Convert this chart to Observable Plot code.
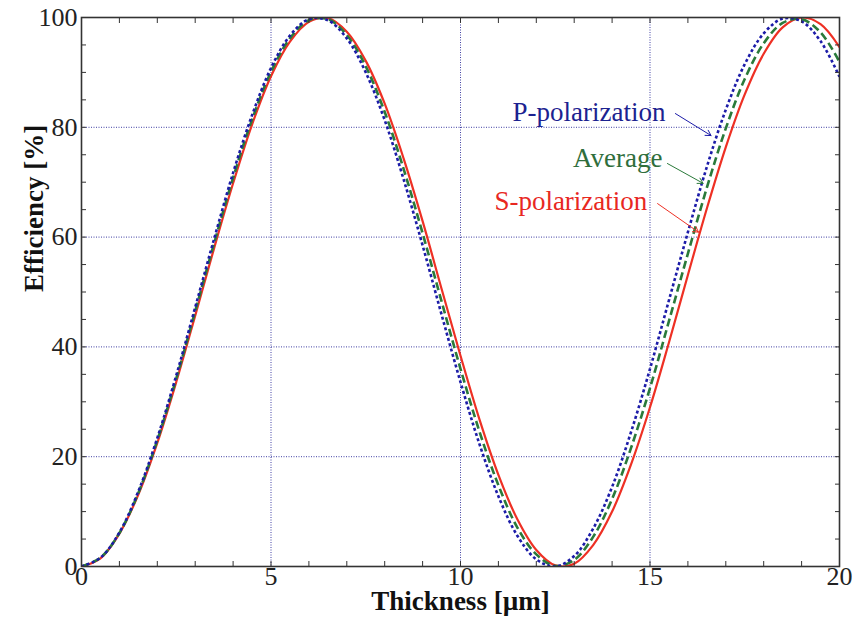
<!DOCTYPE html>
<html>
<head>
<meta charset="utf-8">
<script src="https://cdn.jsdelivr.net/npm/d3@7"></script>
<script src="https://cdn.jsdelivr.net/npm/@observablehq/plot@0.6"></script>
<style>
  html, body { margin: 0; padding: 0; background: #fff; }
  #chart svg, #chart svg text { font-family: "Liberation Serif", "Times New Roman", Tinos, serif !important; }
</style>
</head>
<body>
<div id="chart"></div>
<script>
// Thickness [µm]
const thickness = [0,0.5,1,1.5,2,2.5,3,3.5,4,4.5,5,5.5,6,6.5,7,7.5,8,8.5,9,9.5,10,
  10.5,11,11.5,12,12.5,13,13.5,14,14.5,15,15.5,16,16.5,17,17.5,18,18.5,19,19.5,20];
// Efficiency [%]
const pPolarization = [0,1.6,6.2,13.7,23.4,34.8,47.2,59.7,71.7,82.2,90.8,96.7,99.7,99.5,96.2,90.0,81.3,70.5,58.5,45.9,33.6,
  22.3,12.8,5.6,1.3,0.0,1.9,6.9,14.5,24.5,36.0,48.5,60.9,72.8,83.2,91.5,97.1,99.8,99.3,95.7,89.2];
const sPolarization = [0,1.5,6.0,13.1,22.5,33.6,45.7,58.0,69.8,80.5,89.3,95.6,99.2,99.9,97.4,92.1,84.3,74.3,62.9,50.6,38.4,
  26.8,16.7,8.6,3.0,0.2,0.5,3.9,10.0,18.6,29.0,40.8,53.1,65.2,76.4,86.0,93.4,98.2,100.0,98.8,94.6];
const average = [0,1.6,6.1,13.4,23.0,34.2,46.5,58.9,70.8,81.4,90.1,96.2,99.5,99.7,96.8,91.1,82.8,72.4,60.7,48.3,36.0,
  24.6,14.8,7.1,2.2,0.1,1.2,5.4,12.3,21.6,32.5,44.7,57.0,69.0,79.8,88.8,95.3,99.0,99.7,97.3,91.9];

const xTicks = [0, 5, 10, 15, 20];
const yTicks = [0, 20, 40, 60, 80, 100];
const xGrid = [5, 10, 15];
const yGrid = [20, 40, 60, 80];
const xMinor = d3.range(0, 21, 1);
const yMinor = d3.range(0, 101, 5);

const seriesNames = ["P-polarization", "Average", "S-polarization"];
const seriesColors = ["#1c1ca8", "#2a7a3a", "#ee3024"];
const labelColors = ["#1c2290", "#2f6e3c", "#e8281f"];
// annotation label anchor (right end) and arrow start/end, in data units
const labelX = [15.41, 15.33, 14.93];
const labelY = [82.7, 74.3, 66.5];
const arrowX1 = [15.67, 15.46, 15.20];
const arrowY1 = [82.5, 73.4, 66.1];
const arrowX2 = [16.61, 16.40, 16.28];
const arrowY2 = [78.5, 69.8, 60.9];

const rows = thickness.map((x, i) => ({x, p: pPolarization[i], s: sPolarization[i], a: average[i]}));
const labels = seriesNames.map((name, i) => ({name, x: labelX[i], y: labelY[i], color: labelColors[i]}));
const arrows = seriesNames.map((name, i) => ({x1: arrowX1[i], y1: arrowY1[i], x2: arrowX2[i], y2: arrowY2[i], color: seriesColors[i]}));

const serif = "'Liberation Serif', 'Times New Roman', Tinos, serif";

const plot = Plot.plot({
  width: 863,
  height: 621,
  marginLeft: 81,
  marginRight: 24,
  marginTop: 17,
  marginBottom: 55,
  style: {fontFamily: serif, fontSize: "26px", color: "#222", background: "#fff"},
  x: {domain: [0, 20]},
  y: {domain: [0, 100]},
  marks: [
    Plot.gridX(xGrid, {stroke: "#2b2b9a", strokeOpacity: 0.9, strokeWidth: 1, strokeDasharray: "1,1.5"}),
    Plot.gridY(yGrid, {stroke: "#2b2b9a", strokeOpacity: 0.9, strokeWidth: 1, strokeDasharray: "1,1.5"}),
    Plot.line(rows, {x: "x", y: "s", stroke: seriesColors[2], strokeWidth: 2.2, curve: "catmull-rom", clip: true}),
    Plot.line(rows, {x: "x", y: "a", stroke: seriesColors[1], strokeWidth: 2.6, strokeDasharray: "8,4", strokeLinecap: "butt", curve: "catmull-rom", clip: true}),
    Plot.line(rows, {x: "x", y: "p", stroke: seriesColors[0], strokeWidth: 2.6, strokeDasharray: "3,2.5", strokeLinecap: "butt", curve: "catmull-rom", clip: true}),
    Plot.arrow(arrows, {x1: "x1", y1: "y1", x2: "x2", y2: "y2", stroke: "color", strokeWidth: 1, headLength: 9}),
    Plot.text(labels, {x: "x", y: "y", text: "name", fill: "color", textAnchor: "end", fontSize: 27, fontFamily: serif}),
    // minor / major inward ticks
    Plot.axisX({anchor: "bottom", ticks: xMinor, tickSize: -5, tickFormat: () => "", label: null, stroke: "#333"}),
    Plot.axisX({anchor: "top", ticks: xMinor, tickSize: -5, tickFormat: () => "", label: null, stroke: "#333"}),
    Plot.axisY({anchor: "left", ticks: yMinor, tickSize: -5, tickFormat: () => "", label: null, stroke: "#333"}),
    Plot.axisY({anchor: "right", ticks: yMinor, tickSize: -5, tickFormat: () => "", label: null, stroke: "#333"}),
    // tick labels
    Plot.axisX({anchor: "bottom", ticks: xTicks, tickSize: 0, tickPadding: 0, label: null, fontSize: 26, fill: "#222", fontFamily: serif}),
    Plot.axisY({anchor: "left", ticks: yTicks, tickSize: 0, tickPadding: 4, label: null, fontSize: 26, fill: "#222", fontFamily: serif}),
    Plot.frame({stroke: "#333", strokeWidth: 1.6}),
    Plot.text(["Thickness [µm]"], {frameAnchor: "bottom", dy: 43, fontSize: 27, fontWeight: "bold", fill: "#111", fontFamily: serif}),
    Plot.text(["Efficiency [%]"], {frameAnchor: "left", dx: -47, rotate: -90, fontSize: 27, fontWeight: "bold", fill: "#111", fontFamily: serif})
  ]
});
document.getElementById("chart").appendChild(plot);
</script>
</body>
</html>
